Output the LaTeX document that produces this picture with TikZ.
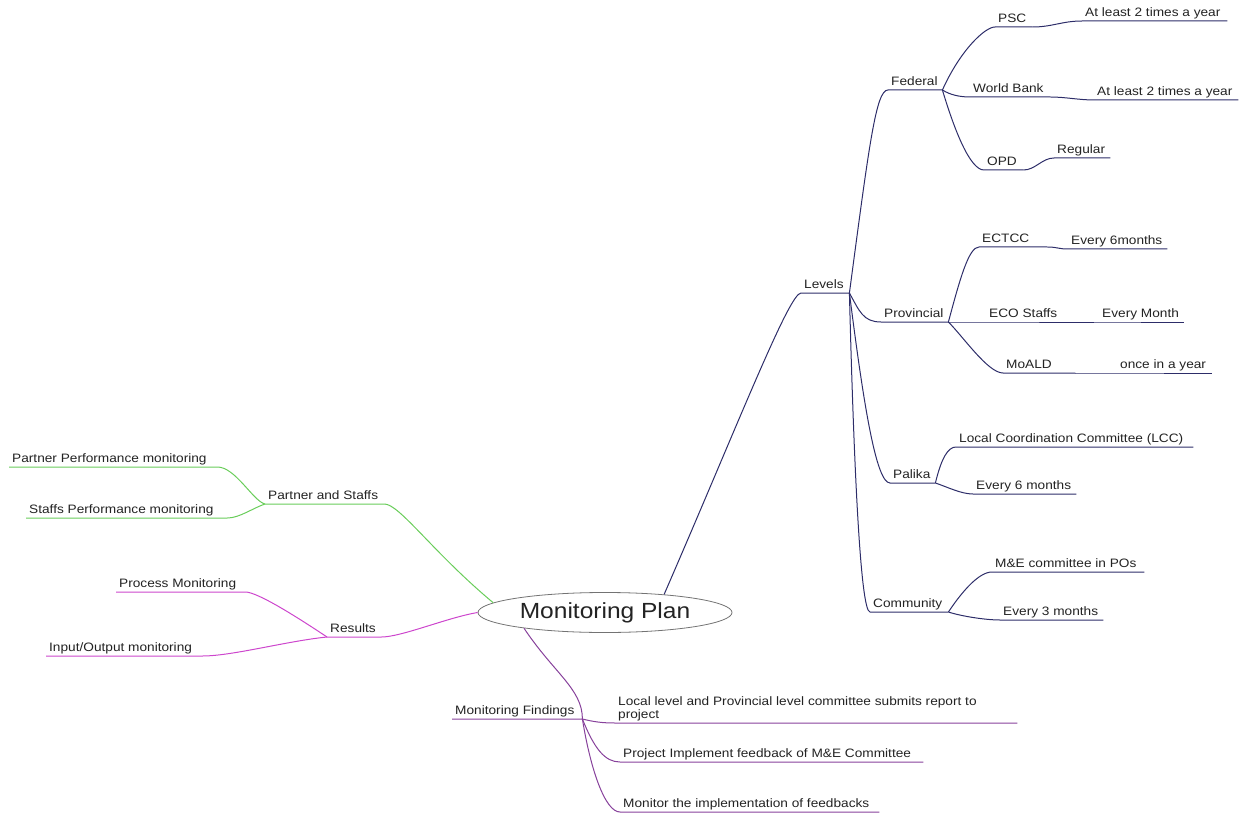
\documentclass[tikz,border=0pt]{standalone}
\usepackage{fontspec}
\setmainfont{Liberation Sans}[FakeStretch=1.12]
\usetikzlibrary{shapes.geometric}
\definecolor{navy}{RGB}{45,45,105}
\definecolor{leafgreen}{RGB}{105,205,90}
\definecolor{pinkline}{RGB}{205,70,205}
\definecolor{findline}{RGB}{135,65,155}
\definecolor{inkgray}{RGB}{35,35,35}
\newcommand{\lbl}[2]{\makebox[#1pt][l]{#2}}

\begin{document}
\begin{tikzpicture}[x=1pt, y=-1pt,
  font=\fontsize{12.2}{13.3}\selectfont,
  topic/.style={anchor=south west, inner xsep=3pt, inner ysep=4pt, text depth=0pt, text=inkgray},
  planbox/.style={ellipse, draw=black!55, fill=white, line width=0.8pt, minimum width=254pt,
    minimum height=40pt, inner sep=0pt, text=inkgray, font=\fontsize{21.9}{24}\selectfont},
  branch/.style={line width=1pt}]
\useasboundingbox (0,0) rectangle (1241,818);
% ---- centre ----
\node[planbox] (plan) at (605,612.5) {Monitoring Plan};
% ---- levels (right) ----
\node[topic] (levels) at (801,293) {\lbl{42}{Levels}};
\node[topic] (federal) at (888,90) {\lbl{48}{Federal}};
\node[topic] (psc) at (995,27) {\lbl{31}{PSC}};
\node[topic] (psctime) at (1082,21) {\lbl{139}{At least 2 times a year}};
\node[topic] (wb) at (970,97) {\lbl{74}{World Bank}};
\node[topic] (wbtime) at (1094,100) {\lbl{138}{At least 2 times a year}};
\node[topic] (opd) at (984,170) {\lbl{33}{OPD}};
\node[topic] (opdtime) at (1054,158) {\lbl{50}{Regular}};
\node[topic] (prov) at (881,322) {\lbl{61}{Provincial}};
\node[topic] (ectcc) at (979,247) {\lbl{62}{ECTCC}};
\node[topic] (ectcctime) at (1068,249) {\lbl{93}{Every 6months}};
\node[topic] (eco) at (986,322) {\lbl{102}{ECO Staffs}};
\node[topic] (ecotime) at (1099,322) {\lbl{79}{Every Month}};
\node[topic] (moald) at (1003,373) {\lbl{66}{MoALD}};
\node[topic] (moaldtime) at (1117,373) {\lbl{89}{once in a year}};
\node[topic] (palika) at (890,483) {\lbl{39}{Palika}};
\node[topic] (lcc) at (956,447) {\lbl{231}{Local Coordination Committee (LCC)}};
\node[topic] (palikatime) at (973,494) {\lbl{97}{Every 6 months}};
\node[topic] (comm) at (870,612) {\lbl{72}{Community}};
\node[topic] (mecomm) at (992,572) {\lbl{146}{M\&E committee in POs}};
\node[topic] (commtime) at (1000,620) {\lbl{97}{Every 3 months}};

\draw[branch, navy] (plan.17) .. controls +(73,-168) and +(-12,0) .. (levels.south west) -- (levels.south east);
\draw[branch, navy] (levels.south east) .. controls +(20,-150) and +(-12,0) .. (federal.south west) -- (federal.south east);
\draw[branch, navy] (levels.south east) .. controls +(10,18) and +(-18,0) .. (prov.south west) -- (prov.south east);
\draw[branch, navy] (levels.south east) .. controls +(14,110) and +(-14,0) .. (palika.south west) -- (palika.south east);
\draw[branch, navy] (levels.south east) .. controls +(4,157) and +(-10,0) .. (comm.south west) -- (comm.south east);
\draw[branch, navy] (federal.south east) .. controls +(18,-40) and +(-10,0) .. (psc.south west) -- (psc.south east);
\draw[branch, navy] (federal.south east) .. controls +(8,5) and +(-10,0) .. (wb.south west) -- (wb.south east);
\draw[branch, navy] (federal.south east) .. controls +(12,40) and +(-14,0) .. (opd.south west) -- (opd.south east);
\draw[branch, navy] (psc.south east) .. controls +(20,0) and +(-20,0) .. (psctime.south west) -- (psctime.south east);
\draw[branch, navy] (wb.south east) .. controls +(15,0) and +(-15,0) .. (wbtime.south west) -- (wbtime.south east);
\draw[branch, navy] (opd.south east) .. controls +(12,0) and +(-12,0) .. (opdtime.south west) -- (opdtime.south east);
\draw[branch, navy] (prov.south east) .. controls +(12,-45) and +(-10,0) .. (ectcc.south west) -- (ectcc.south east);
\draw[branch, navy] (prov.south east) -- (eco.south west) -- (eco.south east);
\draw[branch, navy] (prov.south east) .. controls +(15,15) and +(-15,0) .. (moald.south west) -- (moald.south east);
\draw[branch, navy] (ectcc.south east) .. controls +(10,0) and +(-10,0) .. (ectcctime.south west) -- (ectcctime.south east);
\draw[branch, navy] (eco.south east) -- (ecotime.south west) -- (ecotime.south east);
\draw[branch, navy] (moald.south east) -- (moaldtime.south west) -- (moaldtime.south east);
\draw[branch, navy] (palika.south east) .. controls +(6,-25) and +(-8,0) .. (lcc.south west) -- (lcc.south east);
\draw[branch, navy] (palika.south east) .. controls +(12,4) and +(-12,0) .. (palikatime.south west) -- (palikatime.south east);
\draw[branch, navy] (comm.south east) .. controls +(12,-18) and +(-14,0) .. (mecomm.south west) -- (mecomm.south east);
\draw[branch, navy] (comm.south east) .. controls +(12,4) and +(-15,0) .. (commtime.south west) -- (commtime.south east);
% ---- partner and staffs / results (left) ----
\node[topic] (ps) at (265,504) {\lbl{113}{Partner and Staffs}};
\node[topic] (ppm) at (9,467) {\lbl{202}{Partner Performance monitoring}};
\node[topic] (spm) at (26,518) {\lbl{195}{Staffs Performance monitoring}};
\node[topic] (results) at (327,637) {\lbl{48}{Results}};
\node[topic] (process) at (116,592) {\lbl{123}{Process Monitoring}};
\node[topic] (io) at (46,656) {\lbl{150}{Input/Output monitoring}};

\draw[branch, leafgreen] (plan.175) .. controls +(-60,-50) and +(15,0) .. (ps.south east) -- (ps.south west);
\draw[branch, leafgreen] (ps.south west) .. controls +(-12,-3) and +(18,0) .. (ppm.south east) -- (ppm.south west);
\draw[branch, leafgreen] (ps.south west) .. controls +(-12,4) and +(12,0) .. (spm.south east) -- (spm.south west);
\draw[branch, pinkline] (plan.180) .. controls +(-30,5) and +(20,0) .. (results.south east) -- (results.south west);
\draw[branch, pinkline] (results.south west) .. controls +(-30,-20) and +(12,0) .. (process.south east) -- (process.south west);
\draw[branch, pinkline] (results.south west) .. controls +(-40,4) and +(30,0) .. (io.south east) -- (io.south west);
% ---- monitoring findings (below) ----
\node[topic] (mf) at (452,719) {\lbl{124}{Monitoring Findings}};
\node[topic] (ll) at (615,723) {\lbl{396}{\begin{tabular}[b]{@{}l@{}}Local level and Provincial level committee submits report to\\project\end{tabular}}};
\node[topic] (pi) at (620,762) {\lbl{297}{Project Implement feedback of M\&E Committee}};
\node[topic] (mt) at (620,812) {\lbl{253}{Monitor the implementation of feedbacks}};

\draw[branch, findline] (plan.191) .. controls +(30,45) and +(0,-30) .. (mf.south east) -- (mf.south west);
\draw[branch, findline] (mf.south east) .. controls +(12,3) and +(-12,0) .. (ll.south west) -- (ll.south east);
\draw[branch, findline] (mf.south east) .. controls +(12,30) and +(-15,0) .. (pi.south west) -- (pi.south east);
\draw[branch, findline] (mf.south east) .. controls +(8,50) and +(-15,0) .. (mt.south west) -- (mt.south east);
\end{tikzpicture}
\end{document}
